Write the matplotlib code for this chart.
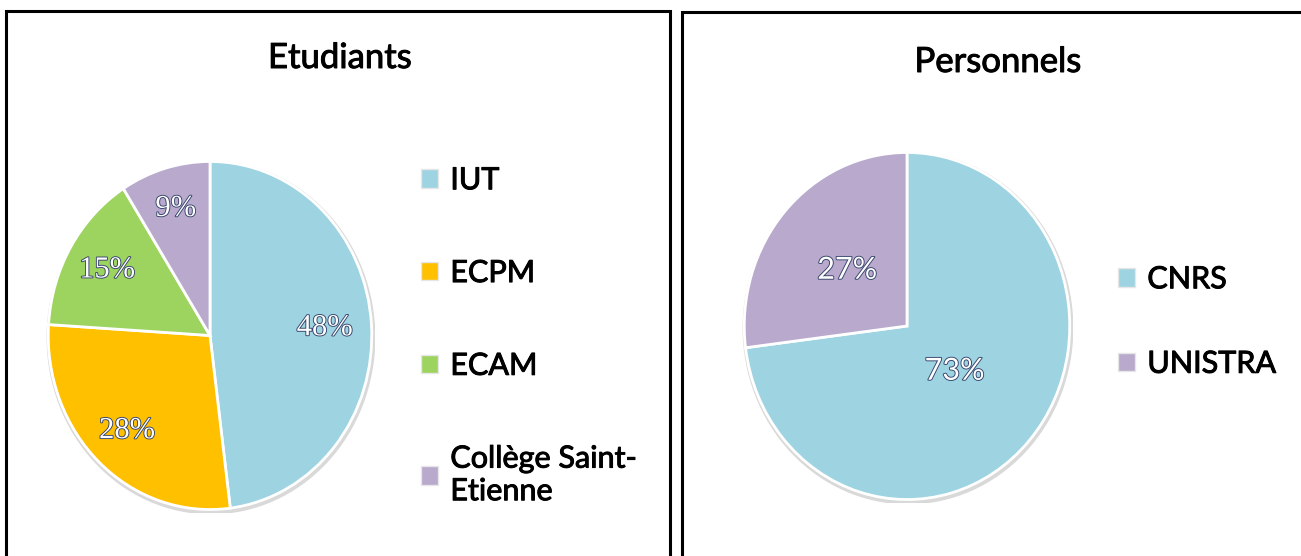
import numpy as np
import matplotlib.pyplot as plt
import matplotlib.patheffects as pe
from matplotlib.patches import Rectangle, Circle

# data
etu_labels = ["IUT", "ECPM", "ECAM", "Collège Saint-\nEtienne"]
etu_values = [48, 28, 15, 9]
etu_colors = ["#9ed3e2", "#ffc000", "#9dd45f", "#b9a9cd"]

pers_labels = ["CNRS", "UNISTRA"]
pers_values = [73, 27]
pers_colors = ["#9ed3e2", "#b9a9cd"]

W, H = 1301, 556
plt.rcParams["font.family"] = ["Lato", "DejaVu Sans"]

fig = plt.figure(figsize=(W / 100, H / 100), dpi=100)


def px_axes(x0, y0, x1, y1):
    # pixel box (top-left origin) -> figure axes
    return fig.add_axes([x0 / W, 1 - y1 / H, (x1 - x0) / W, (y1 - y0) / H])


# panel frames
for x0, y0, x1, y1 in [(6, 11, 670, 570), (682, 12, 1320, 570)]:
    fig.patches.append(Rectangle((x0 / W, 1 - y1 / H), (x1 - x0) / W, (y1 - y0) / H,
                                 transform=fig.transFigure, fill=False,
                                 ec="black", lw=2.2))

pct_fx = [pe.withStroke(linewidth=1.3, foreground="#34426a")]
dark_fx = [pe.withStroke(linewidth=0.7, foreground="black")]


def draw_pie(box, values, colors, labels, pct_dist, pct_family, legend_anchor, spacing):
    ax = px_axes(*box)
    # soft shadow rim
    ax.add_patch(Circle((0.006, -0.012), 1.012, color="#d9d9d9", zorder=0))
    wedges, _ = ax.pie(
        values,
        colors=colors,
        startangle=90,
        counterclock=False,
        wedgeprops=dict(edgecolor="white", linewidth=2),
    )
    for w, v, d in zip(wedges, values, pct_dist):
        ang = np.deg2rad((w.theta1 + w.theta2) / 2)
        ax.text(d * np.cos(ang), d * np.sin(ang), f"{v}%", ha="center", va="center",
                color="white", fontsize=22, family=pct_family, path_effects=pct_fx)
    ax.set_xlim(-1.02, 1.02)
    ax.set_ylim(-1.02, 1.02)
    ax.set_aspect("auto")
    ax.axis("off")
    leg = fig.legend(wedges, labels, loc="upper left",
                     bbox_to_anchor=(legend_anchor[0] / W, 1 - legend_anchor[1] / H),
                     frameon=False, fontsize=22, handlelength=0.55, handleheight=0.55,
                     handletextpad=0.4, labelspacing=spacing, borderpad=0)
    for h in leg.legend_handles:
        h.set_edgecolor("#e6e6e6")
        h.set_linewidth(1)
    for t in leg.get_texts():
        t.set_path_effects(dark_fx)
    return ax


draw_pie((45, 158, 375, 513), etu_values, etu_colors, etu_labels,
         [0.71, 0.75, 0.74, 0.76], ["Liberation Serif"], (406, 151), 2.12)
draw_pie((741, 149, 1073, 503), pers_values, pers_colors, pers_labels,
         [0.39, 0.49], ["Lato"], (1103, 250), 1.85)

fig.text(340 / W, 1 - 58 / H, "Etudiants", ha="center", va="center", fontsize=25,
         path_effects=dark_fx)
fig.text(998 / W, 1 - 62 / H, "Personnels", ha="center", va="center", fontsize=25,
         path_effects=dark_fx)

fig.savefig("out.png", dpi=100, facecolor="white")
